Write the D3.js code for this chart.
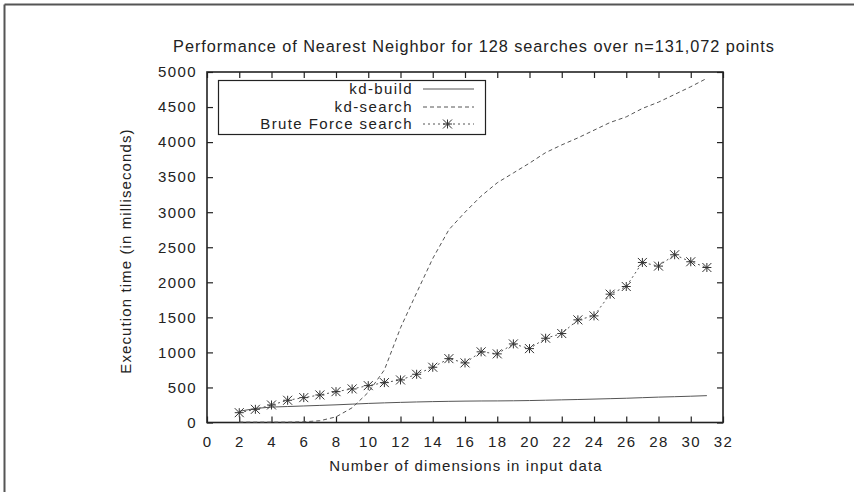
<!DOCTYPE html>
<html><head><meta charset="utf-8">
<script src="https://cdn.jsdelivr.net/npm/d3@7"></script>
<style>body{margin:0;background:#fff;} svg{display:block;} text{font-family:"Liberation Sans",Arial,sans-serif;fill:#222;}</style>
</head><body>
<svg id="c" width="854" height="492"></svg>
<script>
const titleText = "Performance of Nearest Neighbor for 128 searches over n=131,072 points";
const xLabel = "Number of dimensions in input data";
const yLabel = "Execution time (in milliseconds)";
const dims = [2,3,4,5,6,7,8,9,10,11,12,13,14,15,16,17,18,19,20,21,22,23,24,25,26,27,28,29,30,31];
const kdBuild = [160,200,220,228,236,244,252,262,272,280,287,293,298,302,305,307,308,310,313,318,323,328,334,340,346,354,362,368,375,383];
const kdSearch = [5,5,5,5,10,25,80,210,430,750,1350,1850,2340,2750,3000,3230,3420,3560,3700,3850,3960,4060,4170,4280,4360,4480,4570,4680,4790,4910];
const brute = [140,188,250,317,355,393,440,479,526,569,607,688,788,911,850,1008,979,1121,1054,1202,1269,1464,1521,1831,1940,2283,2231,2393,2293,2211];
const xTicks = d3.range(0,33,2);
const yTicks = d3.range(0,5001,500);
const seriesNames = ["kd-build","kd-search","Brute Force search"];

const svg = d3.select("#c");
const L=207, R=723, T=72, B=422.5;
const x = d3.scaleLinear().domain([0,32]).range([L,R]);
const y = d3.scaleLinear().domain([0,5000]).range([B,T]);
const FS = "15px", LS = "1.4px";

// outer frame (top & left)
svg.append("line").attr("x1",4.5).attr("x2",854).attr("y1",4.5).attr("y2",4.5).attr("stroke","#555").attr("stroke-width",2);
svg.append("line").attr("x1",4.5).attr("x2",4.5).attr("y1",4.5).attr("y2",492).attr("stroke","#555").attr("stroke-width",2);

const tl = 6;
const gAx = svg.append("g");
gAx.append("g").attr("transform",`translate(0,${B})`)
  .call(d3.axisBottom(x).tickValues(xTicks).tickSizeInner(-tl).tickSizeOuter(0).tickPadding(14).tickFormat(d3.format("d")));
gAx.append("g").attr("transform",`translate(0,${T})`)
  .call(d3.axisTop(x).tickValues(xTicks).tickSizeInner(-tl).tickSizeOuter(0).tickFormat(""));
gAx.append("g").attr("transform",`translate(${L},0)`)
  .call(d3.axisLeft(y).tickValues(yTicks).tickSizeInner(-tl).tickSizeOuter(0).tickPadding(10).tickFormat(d3.format("d")));
gAx.append("g").attr("transform",`translate(${R},0)`)
  .call(d3.axisRight(y).tickValues(yTicks).tickSizeInner(-tl).tickSizeOuter(0).tickFormat(""));
gAx.selectAll(".domain").remove();
gAx.selectAll(".tick line").attr("stroke","#222").attr("stroke-width",1.2);
gAx.selectAll(".tick text").style("font-size",FS).style("letter-spacing",LS).attr("fill","#222");
svg.append("rect").attr("x",L).attr("y",T).attr("width",R-L).attr("height",B-T)
  .attr("fill","none").attr("stroke","#222").attr("stroke-width",1.6);

const line = (vals) => d3.line().x((d,i)=>x(dims[i])).y(d=>y(d))(vals);

svg.append("path").attr("d",line(kdBuild)).attr("fill","none").attr("stroke","#555").attr("stroke-width",1);
svg.append("path").attr("d",line(kdSearch)).attr("fill","none").attr("stroke","#555").attr("stroke-width",1).attr("stroke-dasharray","4,3");
svg.append("path").attr("d",line(brute)).attr("fill","none").attr("stroke","#555").attr("stroke-width",1).attr("stroke-dasharray","2,3");

const star = (g, cx, cy, s) => {
  g.append("path").attr("d",`M${cx-s},${cy}H${cx+s}M${cx},${cy-s}V${cy+s}M${cx-s},${cy-s}L${cx+s},${cy+s}M${cx-s},${cy+s}L${cx+s},${cy-s}`)
   .attr("stroke","#333").attr("stroke-width",1).attr("fill","none");
};
const gs = svg.append("g");
brute.forEach((v,i)=>star(gs, x(dims[i]), y(v), 4.5));

// legend
const lg = svg.append("g");
lg.append("rect").attr("x",218.5).attr("y",80.5).attr("width",267).attr("height",54).attr("fill","#fff").attr("stroke","#222").attr("stroke-width",1.2);
const ly = [89,107,124];
seriesNames.forEach((n,i)=>{
  lg.append("text").attr("x",413).attr("y",ly[i]).attr("dy","0.36em").attr("text-anchor","end").style("font-size",FS).style("letter-spacing",LS).text(n);
});
lg.append("line").attr("x1",423).attr("x2",474).attr("y1",ly[0]).attr("y2",ly[0]).attr("stroke","#555");
lg.append("line").attr("x1",423).attr("x2",474).attr("y1",ly[1]).attr("y2",ly[1]).attr("stroke","#555").attr("stroke-dasharray","4,3");
lg.append("line").attr("x1",423).attr("x2",474).attr("y1",ly[2]).attr("y2",ly[2]).attr("stroke","#555").attr("stroke-dasharray","2,3");
star(lg, 447.5, ly[2], 4.5);

svg.append("text").attr("x",474).attr("y",46).attr("dy","0.36em").attr("text-anchor","middle").style("font-size","16.3px").style("letter-spacing","0.95px").text(titleText);
svg.append("text").attr("x",466).attr("y",466).attr("dy","0.36em").attr("text-anchor","middle").style("font-size",FS).style("letter-spacing","1.1px").text(xLabel);
svg.append("text").attr("transform","translate(126,251) rotate(-90)").attr("dy","0.36em").attr("text-anchor","middle").style("font-size",FS).style("letter-spacing","1.1px").text(yLabel);
</script>
</body></html>
